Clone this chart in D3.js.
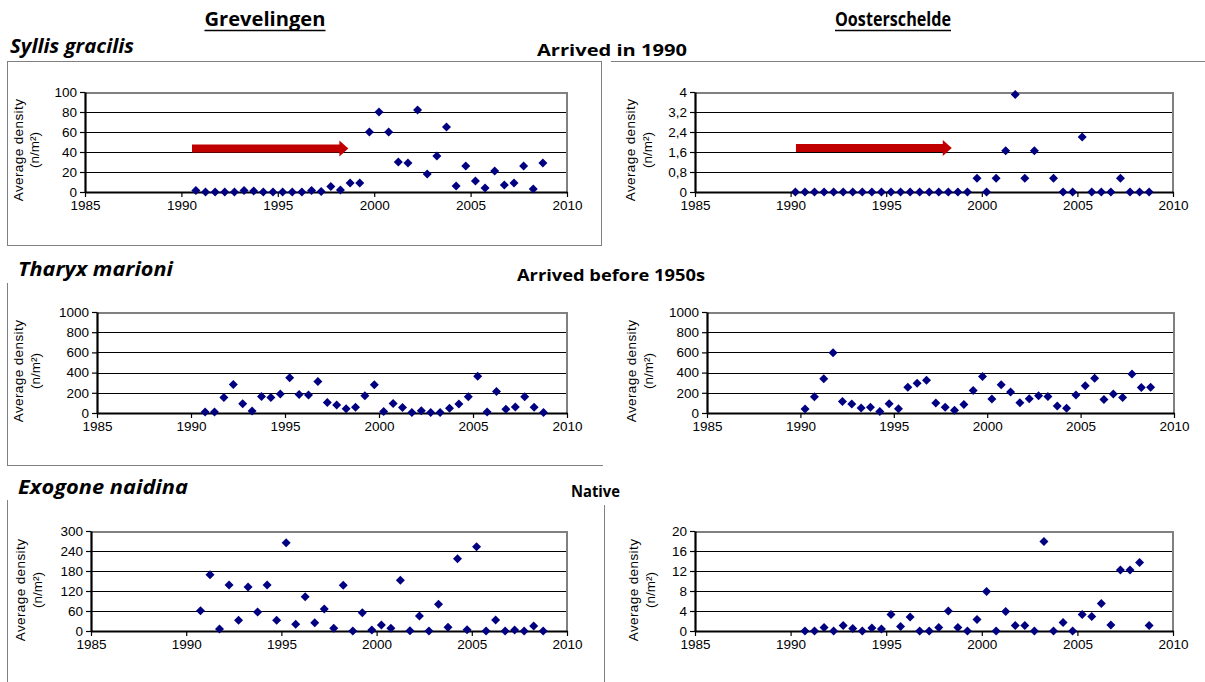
<!DOCTYPE html>
<html><head><meta charset="utf-8">
<script src="https://cdn.jsdelivr.net/npm/d3@7"></script>
<style>body{margin:0;background:#fff}svg{display:block}</style>
</head><body>
<svg id="c" width="1205" height="682"></svg>
<script>
// ---------- data ----------
const xTicks = [1985, 1990, 1995, 2000, 2005, 2010];

const datesA = [1990.75,1991.25,1991.75,1992.25,1992.75,1993.25,1993.75,1994.25,1994.75,1995.25,1995.75,1996.25,1996.75,1997.25,1997.75,1998.25,1998.75,1999.25,1999.75,2000.25,2000.75,2001.25,2001.75,2002.25,2002.75,2003.25,2003.75,2004.25,2004.75,2005.25,2005.75,2006.25,2006.75,2007.25,2007.75,2008.25,2008.75];
const datesB = [1990.25,1990.75,1991.25,1991.75,1992.25,1992.75,1993.25,1993.75,1994.25,1994.75,1995.25,1995.75,1996.25,1996.75,1997.25,1997.75,1998.25,1998.75,1999.25,1999.75,2000.25,2000.75,2001.25,2001.75,2002.25,2002.75,2003.25,2003.75,2004.25,2004.75,2005.25,2005.75,2006.25,2006.75,2007.25,2007.75,2008.25,2008.75];

const grevSyllis = [1.5,0,0,0,0,1.5,1,0,0,0,0,0,1.5,0.5,5.5,2,9,9,60,80,60,30,29,82,18,36,65,6,26,11,4,21,7,9,26,3,29];
const oostSyllis = [0,0,0,0,0,0,0,0,0,0,0,0,0,0,0,0,0,0,0,0.55,0,0.55,1.65,3.9,0.55,1.65,null,0.55,0,0,2.2,0,0,0,0.55,0,0,0];
const grevTharyx = [10,10,154,282,92,20,164,154,187,348,184,177,311,105,79,43,56,170,279,15,95,55,5,22,5,5,48,88,162,363,10,212,38,60,160,58,5];
const oostTharyx = [39,161,338,597,115,89,49,56,16,92,43,256,295,325,98,56,26,85,223,361,138,279,207,102,141,170,164,69,46,177,269,344,134,187,154,387,252,256];
const grevExogone = [61,169,6,138,32,132,57,138,32,265,20,103,25,66,8,137,0,55,3,18,8,152,1,45,0,80,11,217,4,253,0,33,0,3,0,15,0];
const oostExogone = [0,0,0.7,0,1.1,0.5,0,0.6,0.4,3.3,0.9,2.8,0,0,0.7,4,0.7,0,2.3,7.9,0,3.9,1.1,1.1,0,17.9,0,1.7,0,3.3,2.9,5.5,1.2,12.2,12.2,13.7,1.1];

const yTicksSyllisG = [0, 20, 40, 60, 80, 100];
const yTicksSyllisO = [0, 0.8, 1.6, 2.4, 3.2, 4];
const yTicksTharyx  = [0, 200, 400, 600, 800, 1000];
const yTicksExoG    = [0, 60, 120, 180, 240, 300];
const yTicksExoO    = [0, 4, 8, 12, 16, 20];

// arrival arrows (year from, year to, density level)
const arrowGrev = [1990.55, 1998.66, 43.5];
const arrowOost = [1990.28, 1998.43, 1.76];

const siteTitles = ["Grevelingen", "Oosterschelde"];
const speciesNames = ["Syllis gracilis", "Tharyx marioni", "Exogone naidina"];
const statusNotes = ["Arrived in 1990", "Arrived before 1950s", "Native"];

// ---------- layout ----------
const svg = d3.select('#c');
const FONT = "'Liberation Sans', Arial, sans-serif";
const HFONT = "'Open Sans', 'Noto Sans', sans-serif";
const GRAY = '#808080';

const panels = [
  {dates: datesA, values: grevSyllis,  yTicks: yTicksSyllisG, x0: 85,  x1: 567,  yT: 92,  yB: 192, lab: [18, 34, 150], arrow: arrowGrev},
  {dates: datesB, values: oostSyllis,  yTicks: yTicksSyllisO, x0: 695, x1: 1173, yT: 92,  yB: 192, lab: [630, 647, 150], arrow: arrowOost},
  {dates: datesA, values: grevTharyx,  yTicks: yTicksTharyx,  x0: 97,  x1: 567,  yT: 312, yB: 413, lab: [18, 35, 371]},
  {dates: datesB, values: oostTharyx,  yTicks: yTicksTharyx,  x0: 707, x1: 1174, yT: 312, yB: 413, lab: [631, 648, 371]},
  {dates: datesA, values: grevExogone, yTicks: yTicksExoG,    x0: 91,  x1: 567,  yT: 531, yB: 631, lab: [20, 37, 590]},
  {dates: datesA, values: oostExogone, yTicks: yTicksExoO,    x0: 695, x1: 1173, yT: 531, yB: 631, lab: [633, 650, 590]}
];

// frames
const fr = svg.append('g').attr('stroke', GRAY).attr('stroke-width', 1).attr('fill', 'none').attr('shape-rendering', 'crispEdges');
fr.append('rect').attr('x', 7.5).attr('y', 61.5).attr('width', 594).attr('height', 184);
fr.append('line').attr('x1', 611).attr('x2', 1205).attr('y1', 61.5).attr('y2', 61.5);
fr.append('line').attr('x1', 7.5).attr('x2', 7.5).attr('y1', 283).attr('y2', 465.5);
fr.append('line').attr('x1', 7.5).attr('x2', 603).attr('y1', 465.5).attr('y2', 465.5);
fr.append('line').attr('x1', 7.5).attr('x2', 7.5).attr('y1', 500).attr('y2', 682);
fr.append('line').attr('x1', 604.5).attr('x2', 604.5).attr('y1', 505).attr('y2', 682);

const fmt = d => String(d).replace('.', ',');
const diamond = 'M0,-4.5L4.5,0L0,4.5L-4.5,0Z';

panels.forEach(p => {
  const x = d3.scaleLinear().domain([xTicks[0], xTicks[xTicks.length - 1]]).range([p.x0, p.x1]);
  const yMax = d3.max(p.yTicks);
  const y = d3.scaleLinear().domain([0, yMax]).range([p.yB, p.yT]);
  const g = svg.append('g');

  // gridlines
  const grid = g.append('g').attr('transform', `translate(${p.x0},0)`)
    .call(d3.axisLeft(y).tickValues(p.yTicks.slice(1)).tickSize(-(p.x1 - p.x0)).tickSizeOuter(0).tickFormat(''));
  grid.select('.domain').remove();
  grid.selectAll('line').attr('stroke', '#000').attr('stroke-width', 1).attr('shape-rendering', 'crispEdges');
  grid.selectAll('.tick').filter(d => d === yMax).select('line').attr('stroke', GRAY).attr('stroke-width', 2);

  // right border
  g.append('line').attr('x1', p.x1).attr('x2', p.x1).attr('y1', y(yMax)).attr('y2', y(0))
    .attr('stroke', GRAY).attr('stroke-width', 2);

  // x axis
  const xa = g.append('g').attr('transform', `translate(0,${p.yB})`)
    .call(d3.axisBottom(x).tickValues(xTicks).tickSize(5).tickSizeOuter(0).tickPadding(3).tickFormat(d3.format('d')));
  xa.select('.domain').attr('stroke', '#000').attr('stroke-width', 2.2);
  xa.selectAll('line').attr('stroke', '#000').attr('stroke-width', 1.2);
  xa.attr('font-family', FONT).attr('font-size', 13.5);
  xa.selectAll('text').attr('fill', '#000');

  // y axis
  const ya = g.append('g').attr('transform', `translate(${p.x0},0)`)
    .call(d3.axisLeft(y).tickValues(p.yTicks).tickSize(5).tickSizeOuter(0).tickPadding(3).tickFormat(fmt));
  ya.select('.domain').attr('stroke', '#000').attr('stroke-width', 2.2);
  ya.selectAll('line').attr('stroke', '#000').attr('stroke-width', 1.2);
  ya.attr('font-family', FONT).attr('font-size', 13.5);
  ya.selectAll('text').attr('fill', '#000');

  // y axis title
  const [lx1, lx2, cy] = p.lab;
  g.append('text').attr('transform', `translate(${lx1},${cy}) rotate(-90)`)
    .attr('text-anchor', 'middle').attr('dominant-baseline', 'central')
    .attr('font-family', FONT).attr('font-size', 13.5).attr('letter-spacing', 0.4)
    .text('Average density');
  g.append('text').attr('transform', `translate(${lx2},${cy}) rotate(-90)`)
    .attr('text-anchor', 'middle').attr('dominant-baseline', 'central')
    .attr('font-family', FONT).attr('font-size', 13.5)
    .text('(n/m\u00B2)');

  // arrow
  if (p.arrow) {
    const [a0, a1, av] = p.arrow;
    const xs = x(a0), xe = x(a1), yc = y(av);
    const hb = 4, hh = 8, hl = 9;
    const pts = [[xs, yc - hb], [xe - hl, yc - hb], [xe - hl, yc - hh], [xe, yc], [xe - hl, yc + hh], [xe - hl, yc + hb], [xs, yc + hb]];
    g.append('path').attr('d', 'M' + pts.map(q => q.join(',')).join('L') + 'Z').attr('fill', '#C00000');
  }

  // points
  const pts = p.dates.map((d, i) => ({t: d, v: p.values[i]})).filter(d => d.v !== null);
  g.append('g').selectAll('path').data(pts).join('path')
    .attr('d', diamond)
    .attr('transform', d => `translate(${x(d.t)},${y(d.v)})`)
    .attr('fill', '#000080');
});

// headings
const tg = svg.append('g').attr('fill', '#000');
const heads = [[265, 121], [893, 116]];
siteTitles.forEach((t, i) => {
  const [cx, w] = heads[i];
  tg.append('text').attr('x', cx).attr('y', 26).attr('text-anchor', 'middle')
    .attr('font-family', HFONT).attr('font-weight', 'bold').attr('font-size', 19)
    .attr('textLength', w).attr('lengthAdjust', 'spacingAndGlyphs').text(t);
  tg.append('line').attr('x1', cx - w / 2).attr('x2', cx + w / 2).attr('y1', 30.5).attr('y2', 30.5)
    .attr('stroke', '#000').attr('stroke-width', 1.5);
});
const spPos = [[10, 53, 124], [18, 276, 155], [18, 494, 170]];
speciesNames.forEach((t, i) => {
  const [x0, yb, w] = spPos[i];
  tg.append('text').attr('x', x0).attr('y', yb)
    .attr('font-family', HFONT).attr('font-weight', 'bold').attr('font-style', 'italic').attr('font-size', 19)
    .attr('textLength', w).attr('lengthAdjust', 'spacingAndGlyphs').text(t);
});
const notePos = [[537, 56, 150], [517, 281, 188], [571, 497, 49]];
statusNotes.forEach((t, i) => {
  const [x0, yb, w] = notePos[i];
  tg.append('text').attr('x', x0).attr('y', yb)
    .attr('font-family', HFONT).attr('font-weight', 'bold').attr('font-size', 15.5)
    .attr('textLength', w).attr('lengthAdjust', 'spacingAndGlyphs').text(t);
});
</script>
</body></html>
